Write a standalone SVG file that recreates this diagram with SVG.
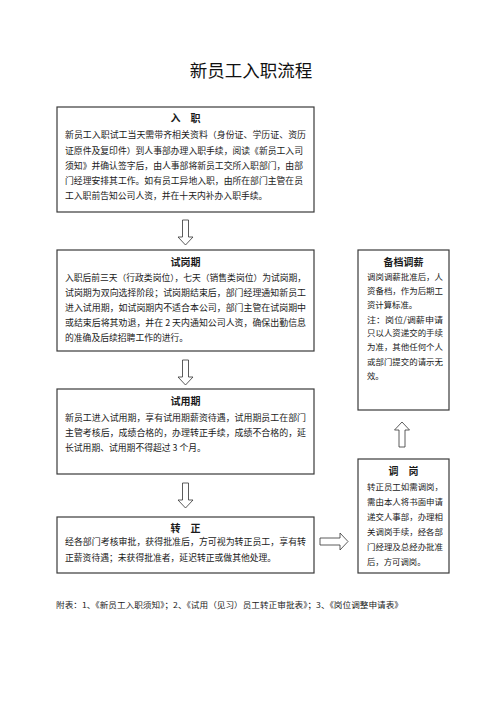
<svg xmlns="http://www.w3.org/2000/svg" width="500" height="706" viewBox="0 0 500 706">
<style>
.box{fill:#fff;stroke:#3a3a3a;stroke-width:1.2}
.arr{fill:#fff;stroke:#333;stroke-width:0.8;stroke-linejoin:miter}
text{font-family:"Noto Sans CJK SC","Noto Sans",sans-serif;fill:#1a1a1a}
.t{font-size:8.8px}
.s{font-size:8.4px}
.h{font-size:10px;font-weight:bold;text-anchor:middle}
.title{font-size:17.5px;text-anchor:middle;fill:#111}
.f{font-size:8px}
</style>
<rect width="500" height="706" fill="#fff"/>
<text class="title" x="251" y="77">新员工入职流程</text>

<g id="node-ruzhi">
<rect class="box" x="57" y="107" width="257" height="105"/>
<text class="h" x="185.5" y="122">入　职</text>
<text class="t" x="65" y="138" textLength="241" lengthAdjust="spacingAndGlyphs">新员工入职试工当天需带齐相关资料（身份证、学历证、资历</text>
<text class="t" x="65" y="154" textLength="238" lengthAdjust="spacingAndGlyphs">证原件及复印件）到人事部办理入职手续，阅读《新员工入司</text>
<text class="t" x="65" y="169" textLength="238" lengthAdjust="spacingAndGlyphs">须知》并确认签字后，由人事部将新员工交所入职部门，由部</text>
<text class="t" x="65" y="184" textLength="238" lengthAdjust="spacingAndGlyphs">门经理安排其工作。如有员工异地入职，由所在部门主管在员</text>
<text class="t" x="65" y="199">工入职前告知公司人资，并在十天内补办入职手续。</text>
</g>

<g id="node-shigang">
<rect class="box" x="57" y="250" width="257" height="101"/>
<text class="h" x="185.5" y="266">试岗期</text>
<text class="t" x="65" y="281" textLength="241" lengthAdjust="spacingAndGlyphs">入职后前三天（行政类岗位），七天（销售类岗位）为试岗期，</text>
<text class="t" x="65" y="296" textLength="241" lengthAdjust="spacingAndGlyphs">试岗期为双向选择阶段；试岗期结束后，部门经理通知新员工</text>
<text class="t" x="65" y="311" textLength="241" lengthAdjust="spacingAndGlyphs">进入试用期，如试岗期内不适合本公司，部门主管在试岗期中</text>
<text class="t" x="65" y="326" textLength="241" lengthAdjust="spacingAndGlyphs">或结束后将其劝退，并在 2 天内通知公司人资，确保出勤信息</text>
<text class="t" x="65" y="341">的准确及后续招聘工作的进行。</text>
</g>

<g id="node-shiyong">
<rect class="box" x="57" y="389" width="257" height="85"/>
<text class="h" x="185.5" y="405">试用期</text>
<text class="t" x="65" y="421" textLength="241" lengthAdjust="spacingAndGlyphs">新员工进入试用期，享有试用期薪资待遇，试用期员工在部门</text>
<text class="t" x="65" y="436" textLength="241" lengthAdjust="spacingAndGlyphs">主管考核后，成绩合格的，办理转正手续，成绩不合格的，延</text>
<text class="t" x="65" y="451">长试用期、试用期不得超过 3 个月。</text>
</g>

<g id="node-zhuanzheng">
<rect class="box" x="57" y="517" width="257" height="56"/>
<text class="h" x="185.5" y="532">转　正</text>
<text class="t" x="65" y="545" textLength="241" lengthAdjust="spacingAndGlyphs">经各部门考核审批，获得批准后，方可视为转正员工，享有转</text>
<text class="t" x="65" y="561">正薪资待遇；未获得批准者，延迟转正或做其他处理。</text>
</g>

<g id="node-beidang">
<rect class="box" x="358" y="250" width="91" height="160"/>
<text class="h" x="403.5" y="266">备档调薪</text>
<text class="s" x="367" y="280" textLength="76" lengthAdjust="spacingAndGlyphs">调岗调薪批准后，人</text>
<text class="s" x="367" y="294" textLength="76" lengthAdjust="spacingAndGlyphs">资备档，作为后期工</text>
<text class="s" x="367" y="308">资计算标准。</text>
<text class="s" x="367" y="323" textLength="76" lengthAdjust="spacingAndGlyphs">注：岗位/调薪申请</text>
<text class="s" x="367" y="336" textLength="76" lengthAdjust="spacingAndGlyphs">只以人资递交的手续</text>
<text class="s" x="367" y="350" textLength="76" lengthAdjust="spacingAndGlyphs">为准，其他任何个人</text>
<text class="s" x="367" y="365" textLength="76" lengthAdjust="spacingAndGlyphs">或部门提交的请示无</text>
<text class="s" x="367" y="379">效。</text>
</g>

<g id="node-tiaogang">
<rect class="box" x="358" y="459" width="91" height="114"/>
<text class="h" x="403.5" y="475">调　岗</text>
<text class="s" x="367" y="490" textLength="76" lengthAdjust="spacingAndGlyphs">转正员工如需调岗，</text>
<text class="s" x="367" y="505" textLength="76" lengthAdjust="spacingAndGlyphs">需由本人将书面申请</text>
<text class="s" x="367" y="520" textLength="76" lengthAdjust="spacingAndGlyphs">递交人事部，办理相</text>
<text class="s" x="367" y="535" textLength="76" lengthAdjust="spacingAndGlyphs">关调岗手续，经各部</text>
<text class="s" x="367" y="550" textLength="76" lengthAdjust="spacingAndGlyphs">门经理及总经办批准</text>
<text class="s" x="367" y="565">后，方可调岗。</text>
</g>

<g id="connectors">
<path class="arr" d="M182.5,220 L188.5,220 L188.5,237 L193,237 L185.5,245 L178,237 L182.5,237 Z"/>
<path class="arr" d="M182.5,360 L188.5,360 L188.5,377 L193,377 L185.5,385 L178,377 L182.5,377 Z"/>
<path class="arr" d="M182.5,483 L188.5,483 L188.5,500 L193,500 L185.5,508 L178,500 L182.5,500 Z"/>
<path class="arr" d="M320,538 L340,538 L340,533 L348,541.5 L340,550 L340,545 L320,545 Z"/>
<path class="arr" d="M402,422 L409.5,430 L405,430 L405,447 L399,447 L399,430 L394.5,430 Z"/>
</g>

<text class="f" x="56" y="608" textLength="347" lengthAdjust="spacingAndGlyphs">附表：1、《新员工入职须知》；2、《试用（见习）员工转正审批表》；3、《岗位调整申请表》</text>
</svg>
